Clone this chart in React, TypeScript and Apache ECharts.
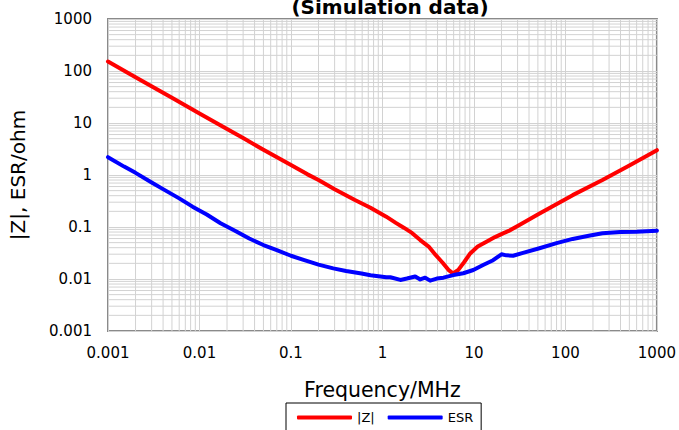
import React, { useEffect, useRef } from "react";
import * as echarts from "echarts";

const titleText = "(Simulation data)";
const xAxisName = "Frequency/MHz";
const yAxisName = "|Z|, ESR/ohm";
const seriesNames = ["|Z|", "ESR"];

const xTickLabels = ["0.001", "0.01", "0.1", "1", "10", "100", "1000"];
const yTickLabels = ["0.001", "0.01", "0.1", "1", "10", "100", "1000"];

const zFreq = [0.001, 0.002, 0.005, 0.01, 0.02, 0.03, 0.05, 0.1, 0.15, 0.2, 0.3, 0.5, 0.74, 1.1, 1.4, 1.71, 2.1, 2.59, 3.2, 3.81, 4.5, 5.26, 5.9, 6.75, 7.8, 9.1, 11, 13.7, 17, 20.8, 24, 31.4, 51, 120, 254, 500, 1000];
const zValues = [152, 76, 30.5, 15.3, 7.7, 5.15, 3.05, 1.55, 1.04, 0.8, 0.53, 0.33, 0.235, 0.158, 0.12, 0.097, 0.077, 0.056, 0.042, 0.029, 0.021, 0.015, 0.0128, 0.015, 0.021, 0.031, 0.042, 0.052, 0.064, 0.0755, 0.084, 0.109, 0.178, 0.41, 0.8, 1.53, 3.0];

const esrFreq = [0.001, 0.0015, 0.002, 0.003, 0.004, 0.006, 0.0084, 0.012, 0.017, 0.025, 0.035, 0.05, 0.07, 0.1, 0.14, 0.2, 0.29, 0.4, 0.59, 0.74, 1.1, 1.22, 1.57, 1.85, 2.28, 2.59, 2.93, 3.32, 3.93, 4.64, 5.96, 7.65, 9.84, 12.6, 16.2, 20, 22.6, 26.8, 34.4, 52, 80, 120, 180, 254, 400, 600, 1000];
const esrValues = [2.2, 1.45, 1.1, 0.72, 0.535, 0.355, 0.246, 0.174, 0.118, 0.083, 0.06, 0.045, 0.036, 0.028, 0.023, 0.0189, 0.016, 0.0143, 0.0128, 0.0118, 0.0108, 0.0108, 0.0096, 0.0102, 0.0112, 0.0098, 0.0106, 0.0093, 0.0102, 0.0106, 0.0119, 0.0129, 0.0149, 0.0186, 0.023, 0.0299, 0.0285, 0.028, 0.0318, 0.039, 0.049, 0.059, 0.068, 0.076, 0.08, 0.081, 0.085];

const decades = [-3, -2, -1, 0, 1, 2];
const minorSteps = [2, 3, 4, 5, 6, 7, 8, 9];

function fmt(v: number, labels: string[]) {
  const i = Math.round(Math.log10(v)) + 3;
  return labels[i] !== undefined ? labels[i] : String(v);
}

export default function App() {
  const ref = useRef<HTMLDivElement>(null);
  useEffect(() => {
    if (!ref.current) return;
    const chart = echarts.init(ref.current, undefined, { renderer: "svg" });
    const minorVals: number[] = [];
    decades.forEach((d) => minorSteps.forEach((m) => minorVals.push(m * Math.pow(10, d))));
    const font = "DejaVu Sans";
    const gridColor = "#d2d2d2";
    chart.setOption({
      animation: false,
      title: {
        text: titleText,
        left: 390,
        textAlign: "center",
        top: -3,
        padding: 0,
        textStyle: { fontFamily: font, fontWeight: "bold", fontSize: 20, color: "#000" },
      },
      legend: {
        left: 286,
        top: 403,
        padding: [8, 8, 8, 11],
        itemGap: 13,
        itemWidth: 55,
        itemHeight: 4,
        icon: "roundRect",
        borderColor: "#000",
        borderWidth: 1,
        borderRadius: 0,
        data: seriesNames,
        textStyle: { fontFamily: font, fontSize: 13, color: "#000" },
      },
      grid: {
        left: 106,
        right: 20,
        top: 19,
        bottom: 99,
        show: true,
        borderColor: "#8a8a8a",
        borderWidth: 2,
        backgroundColor: "#fff",
      },
      xAxis: {
        type: "log",
        logBase: 10,
        min: 0.001,
        max: 1000,
        splitNumber: 6,
        name: xAxisName,
        nameLocation: "middle",
        nameGap: 48,
        nameTextStyle: { fontFamily: font, fontSize: 20.5, color: "#000" },
        axisLine: { show: false },
        axisTick: { show: false },
        axisLabel: {
          margin: 14,
          fontFamily: font,
          fontSize: 15,
          color: "#000",
          formatter: (v: number) => fmt(v, xTickLabels),
        },
        splitLine: { show: true, lineStyle: { color: gridColor, width: 1 } },
      },
      yAxis: {
        type: "log",
        logBase: 10,
        min: 0.001,
        max: 1000,
        splitNumber: 6,
        name: yAxisName,
        nameLocation: "middle",
        nameGap: 80,
        nameTextStyle: { fontFamily: font, fontSize: 20, color: "#000" },
        axisLine: { show: false },
        axisTick: { show: false },
        axisLabel: {
          margin: 16,
          fontFamily: font,
          fontSize: 15,
          color: "#000",
          formatter: (v: number) => fmt(v, yTickLabels),
        },
        splitLine: { show: true, lineStyle: { color: gridColor, width: 1 } },
      },
      series: [
        {
          type: "custom",
          silent: true,
          z: 0,
          data: minorVals.map((v) => [v, 1]),
          renderItem: (params: any, api: any) => {
            const cs = params.coordSys;
            const x = api.coord([api.value(0), 1])[0];
            return {
              type: "line",
              shape: { x1: x, y1: cs.y, x2: x, y2: cs.y + cs.height },
              style: { stroke: gridColor, lineWidth: 1 },
            };
          },
        },
        {
          type: "custom",
          silent: true,
          z: 0,
          data: minorVals.map((v) => [1, v]),
          renderItem: (params: any, api: any) => {
            const cs = params.coordSys;
            const y = api.coord([1, api.value(1)])[1];
            return {
              type: "line",
              shape: { x1: cs.x, y1: y, x2: cs.x + cs.width, y2: y },
              style: { stroke: gridColor, lineWidth: 1 },
            };
          },
        },
        {
          name: seriesNames[0],
          type: "line",
          showSymbol: false,
          symbol: "none",
          z: 3,
          color: "#ff0000",
          lineStyle: { color: "#ff0000", width: 4, cap: "round", join: "round" },
          data: zFreq.map((f, i) => [f, zValues[i]]),
        },
        {
          name: seriesNames[1],
          type: "line",
          showSymbol: false,
          symbol: "none",
          z: 3,
          color: "#0000ff",
          lineStyle: { color: "#0000ff", width: 4, cap: "round", join: "round" },
          data: esrFreq.map((f, i) => [f, esrValues[i]]),
        },
      ],
    });
    return () => chart.dispose();
  }, []);
  return (
    <div
      ref={ref}
      style={{ position: "fixed", left: 0, top: 0, width: 679, height: 430, background: "#fff" }}
    />
  );
}
